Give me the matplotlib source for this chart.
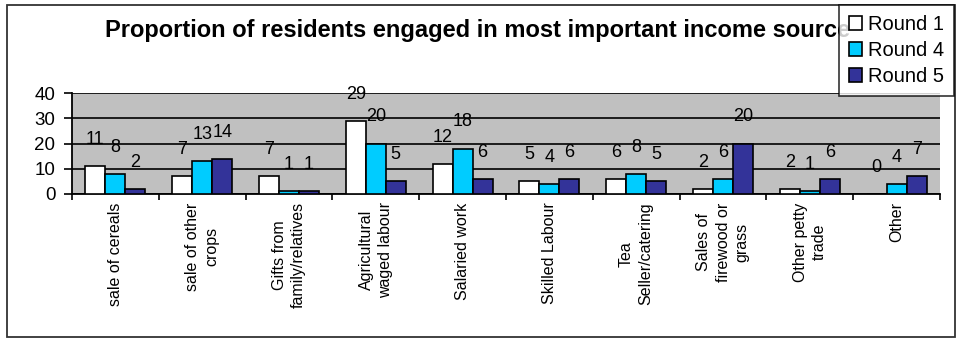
import matplotlib
matplotlib.use("Agg")
import matplotlib.pyplot as plt
import numpy as np
from matplotlib.patches import Rectangle

plt.rcParams['font.family'] = ['Liberation Sans', 'DejaVu Sans']

categories = [
    "sale of cereals",
    "sale of other\ncrops",
    "Gifts from\nfamily/relatives",
    "Agricultural\nwaged labour",
    "Salaried work",
    "Skilled Labour",
    "Tea\nSeller/catering",
    "Sales of\nfirewood or\ngrass",
    "Other petty\ntrade",
    "Other",
]
round1 = [11, 7, 7, 29, 12, 5, 6, 2, 2, 0]
round4 = [8, 13, 1, 20, 18, 4, 8, 6, 1, 4]
round5 = [2, 14, 1, 5, 6, 6, 5, 20, 6, 7]
series_names = ["Round 1", "Round 4", "Round 5"]
colors = ["#FFFFFF", "#00CCFF", "#333399"]
yticks = [0, 10, 20, 30, 40]

fig = plt.figure(figsize=(9.62, 3.39), dpi=100)
fig.patch.set_facecolor("white")

# outer chart border
fig.patches.append(Rectangle((7 / 962, 2 / 339), 948 / 962, 332 / 339,
                             transform=fig.transFigure, fill=False,
                             edgecolor="#333333", linewidth=1.3))

ax = fig.add_axes([72 / 962, 145 / 339, 868 / 962, 101 / 339])
ax.set_facecolor("#C0C0C0")

x = np.arange(len(categories))
w = 0.23
for i, (vals, name, col) in enumerate(zip([round1, round4, round5], series_names, colors)):
    xs = x + (i - 1) * w
    ax.bar(xs, vals, width=w, color=col, edgecolor="black",
           linewidth=1.2, label=name, zorder=3)
    for xi, v in zip(xs, vals):
        ax.annotate(str(v), (xi, v), xytext=(0, 13), textcoords="offset points",
                    ha="center", va="bottom", fontsize=13, zorder=4)

ax.set_xlim(-0.5, len(categories) - 0.5)
ax.set_ylim(0, 40)
ax.set_yticks(yticks)
ax.set_yticklabels([str(t) for t in yticks], fontsize=13.5)
ax.yaxis.grid(True, color="black", linewidth=1.2, zorder=1)
ax.set_axisbelow(True)

ax.set_xticks(np.arange(-0.5, len(categories), 1.0))
ax.set_xticklabels([])
ax.set_xticks(x, minor=True)
ax.set_xticklabels(categories, minor=True, rotation=90, fontsize=11.5,
                   va="top", ha="center", multialignment="center",
                   linespacing=1.35)
ax.tick_params(axis="x", which="minor", length=0, pad=6)
ax.tick_params(axis="x", which="major", length=4, width=1.2, direction="out")
ax.tick_params(axis="y", length=6, width=1.2, direction="out", pad=6)

for side in ["top", "right"]:
    ax.spines[side].set_visible(False)
for side in ["left", "bottom"]:
    ax.spines[side].set_linewidth(1.3)

fig.text(478 / 962, 1 - 31 / 339,
         "Proportion of residents engaged in most important income source",
         ha="center", va="center", fontsize=17, fontweight="bold")

leg = fig.legend(loc="upper right", bbox_to_anchor=(954 / 962, 1 - 5 / 339),
                 fontsize=14.5, frameon=True, fancybox=False, handlelength=0.65,
                 handleheight=0.65, handletextpad=0.3, borderpad=0.5,
                 labelspacing=0.35, borderaxespad=0)
leg.get_frame().set_edgecolor("black")
leg.get_frame().set_linewidth(1.2)
leg.set_zorder(10)

fig.savefig("out.png", dpi=100)
